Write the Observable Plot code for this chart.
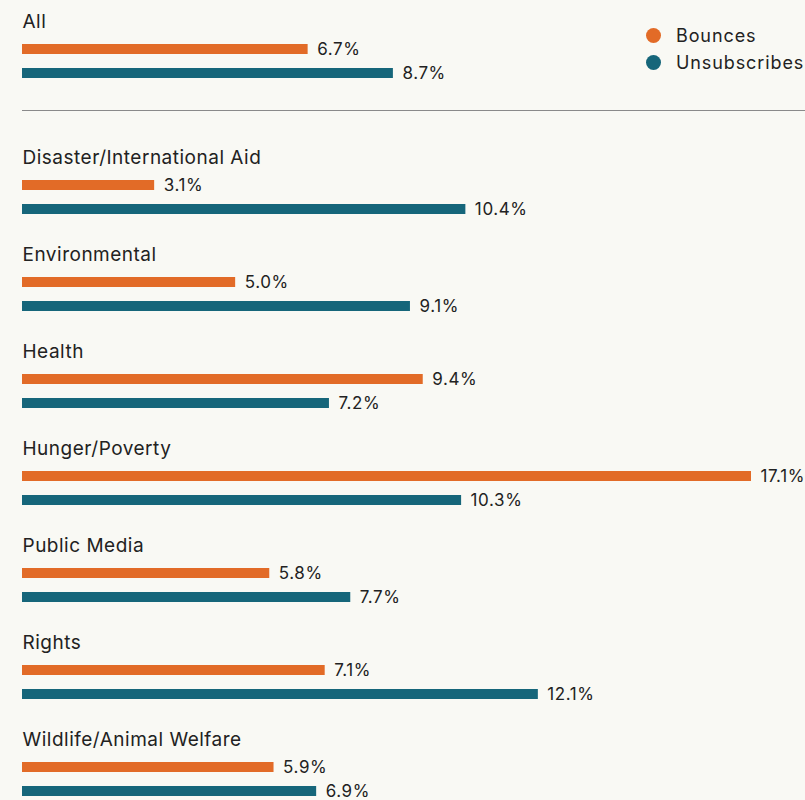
<!DOCTYPE html>
<html>
<head>
<meta charset="utf-8">
<script src="https://cdn.jsdelivr.net/npm/d3@7"></script>
<script src="https://cdn.jsdelivr.net/npm/@observablehq/plot@0.6"></script>
<style>
  html, body { margin: 0; padding: 0; background: #f9f9f4; }
  body { width: 805px; font-family: Inter, Lato, "Noto Sans", sans-serif; color: #222; position: relative; }
  #legend { position: absolute; left: 646px; top: 22px; font-size: 18px; letter-spacing: 0.9px; }
  #legend .item { display: flex; align-items: center; height: 27px; }
  #legend .sw { width: 15px; height: 15px; border-radius: 50%; margin-right: 15px; }
  #sep { margin-left: 22px; width: 783px; border-top: 1.5px solid #8a8a8a; }
  svg { display: block; }
  g[aria-description="category-labels"] text { letter-spacing: 0.5px; }
  g[aria-description="value-labels"] text { letter-spacing: 0.6px; }
</style>
</head>
<body>
<div id="top"></div>
<div id="sep"></div>
<div id="bottom"></div>
<div id="legend"></div>
<script>
const categories = ["All", "Disaster/International Aid", "Environmental", "Health", "Hunger/Poverty", "Public Media", "Rights", "Wildlife/Animal Welfare"];
const bounces = [6.7, 3.1, 5.0, 9.4, 17.1, 5.8, 7.1, 5.9];
const unsubscribes = [8.7, 10.4, 9.1, 7.2, 10.3, 7.7, 12.1, 6.9];
const series = ["Bounces", "Unsubscribes"];
const seriesColors = ["#e26b27", "#16667a"];

const rows = [];
categories.forEach((c, i) => {
  rows.push({category: c, series: series[0], value: bounces[i]});
  rows.push({category: c, series: series[1], value: unsubscribes[i]});
});

const xMax = d3.max([...bounces, ...unsubscribes]);
const facetStep = 97.5;
const font = "Inter, Lato, 'Noto Sans', sans-serif";

function makePlot(cats, marginTop) {
  const data = rows.filter(d => cats.includes(d.category));
  return Plot.plot({
    width: 805,
    height: marginTop + facetStep * cats.length,
    marginTop,
    marginBottom: 0,
    marginLeft: 22,
    marginRight: 54,
    style: {background: "transparent", fontFamily: font, color: "#222", overflow: "visible"},
    x: {domain: [0, xMax], axis: null},
    y: {domain: ["label", ...series], axis: null, paddingInner: 0, paddingOuter: 0.45, align: 0},
    fy: {domain: cats, axis: null, padding: 0},
    color: {domain: series, range: seriesColors},
    facet: {marginTop: 0, marginBottom: 0, marginLeft: 0, marginRight: 0},
    marks: [
      Plot.barX(data, {x: "value", y: "series", fy: "category", fill: "series", insetTop: 7, insetBottom: 7}),
      Plot.text(data, {x: "value", y: "series", fy: "category", text: d => d.value.toFixed(1) + "%", dx: 9, textAnchor: "start", fontSize: 17, fill: "#222", ariaDescription: "value-labels"}),
      Plot.text(cats, {x: () => 0, y: () => "label", fy: d => d, text: d => d, textAnchor: "start", fontSize: 19, fill: "#222", dy: -4, ariaDescription: "category-labels"})
    ]
  });
}

document.getElementById("top").append(makePlot(categories.slice(0, 1), 13));
document.getElementById("sep").style.marginTop = "-1px";
document.getElementById("bottom").append(makePlot(categories.slice(1), 36));

const legend = document.getElementById("legend");
series.forEach((s, i) => {
  const item = document.createElement("div");
  item.className = "item";
  const sw = document.createElement("span");
  sw.className = "sw";
  sw.style.background = seriesColors[i];
  const t = document.createElement("span");
  t.textContent = s;
  item.append(sw, t);
  legend.append(item);
});
</script>
</body>
</html>
